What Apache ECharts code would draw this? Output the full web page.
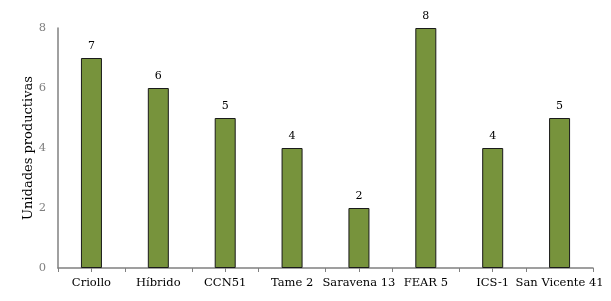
<!DOCTYPE html>
<html>
<head>
<meta charset="utf-8">
<script src="https://cdn.jsdelivr.net/npm/echarts@6/dist/echarts.min.js"></script>
<style>
  html, body { margin: 0; padding: 0; background: #fff; }
  #chart { width: 611px; height: 301px; }
</style>
</head>
<body>
<div id="chart"></div>
<script>
// datos
var categorias = ['Criollo', 'Híbrido', 'CCN51', 'Tame 2', 'Saravena 13', 'FEAR 5', 'ICS-1', 'San Vicente 41'];
var unidades = [7, 6, 5, 4, 2, 8, 4, 5];
var yTicks = [0, 2, 4, 6, 8];

var fuente = '"DejaVu Serif", "Liberation Serif", serif';

var chart = echarts.init(document.getElementById('chart'));

var option = {
    animation: false,
    textStyle: { fontFamily: fuente },
    grid: { left: 58, right: 18, top: 28, bottom: 33 },
    xAxis: [
        {
            type: 'category',
            data: categorias,
            axisLine: { lineStyle: { color: '#808080', width: 1.5 } },
            axisTick: { show: true, inside: false, length: 4, lineStyle: { color: '#808080' } },
            axisLabel: { color: '#000', fontFamily: fuente, fontSize: 11.5, margin: 9, interval: 0 }
        },
        {
            type: 'category',
            data: categorias,
            position: 'bottom',
            axisLine: { show: false },
            axisTick: { show: true, alignWithLabel: true, length: 4, lineStyle: { color: '#808080' } },
            axisLabel: { show: false }
        }
    ],
    yAxis: {
        type: 'value',
        min: yTicks[0],
        max: yTicks[yTicks.length - 1],
        interval: 2,
        name: 'Unidades productivas',
        nameLocation: 'middle',
        nameGap: 23,
        nameMoveOverlap: false,
        nameTextStyle: { color: '#000', fontFamily: fuente, fontSize: 13 },
        axisLine: { show: true, lineStyle: { color: '#808080', width: 1.5 } },
        axisTick: { show: false },
        splitLine: { show: false },
        axisLabel: { color: '#7f7f7f', fontFamily: fuente, fontSize: 11.5, margin: 12 }
    },
    series: [
        {
            type: 'bar',
            data: unidades,
            barWidth: 21,
            itemStyle: { color: '#77933c', borderColor: '#1a1a1a', borderWidth: 1 },
            label: { show: true, position: 'top', distance: 6, color: '#000', fontFamily: fuente, fontSize: 11 }
        }
    ]
};

chart.setOption(option);
</script>
</body>
</html>
